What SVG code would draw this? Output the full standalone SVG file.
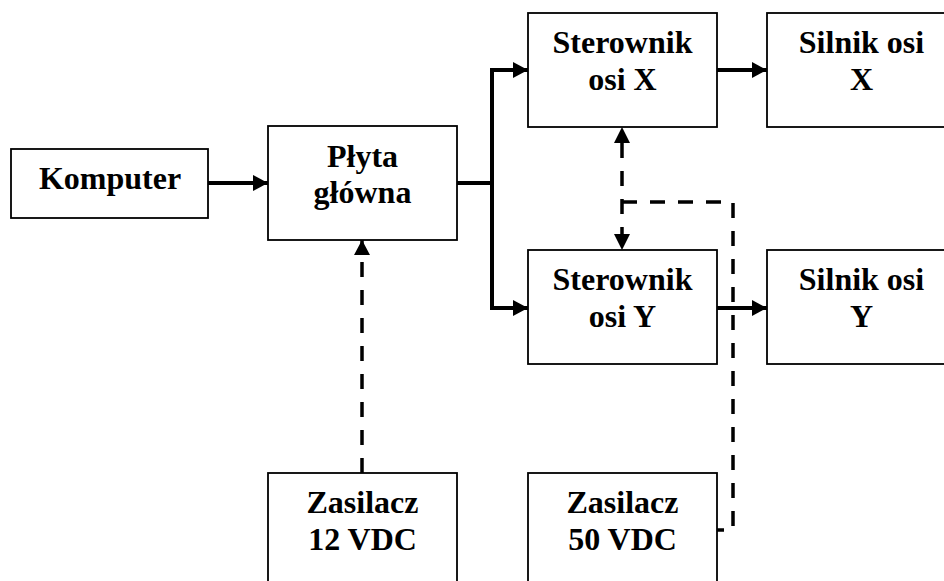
<svg xmlns="http://www.w3.org/2000/svg" width="944" height="581" viewBox="0 0 944 581">
<defs>
<style>
.box{fill:#fff;stroke:#000;stroke-width:1.8}
.t{font-family:"Liberation Serif","Times New Roman",serif;font-weight:bold;font-size:32px;text-anchor:middle;fill:#000}
.solid{fill:none;stroke:#000;stroke-width:4}
.dash{fill:none;stroke:#000;stroke-width:3.5;stroke-dasharray:15 13}
</style>
<marker id="ah" viewBox="0 0 15 16" refX="15" refY="8" markerWidth="15" markerHeight="16" markerUnits="userSpaceOnUse" orient="auto-start-reverse">
<path d="M0,0 L15,8 L0,16 Z" fill="#000"/>
</marker>
</defs>
<rect width="944" height="581" fill="#fff"/>
<g id="connectors">
<line class="solid" x1="208" y1="183" x2="268" y2="183" marker-end="url(#ah)"/>
<polyline class="solid" points="457,183 492,183"/>
<polyline class="solid" points="492,183 492,70 528,70" marker-end="url(#ah)"/>
<polyline class="solid" points="492,183 492,308 528,308" marker-end="url(#ah)"/>
<line class="solid" x1="717" y1="70" x2="767" y2="70" marker-end="url(#ah)"/>
<line class="solid" x1="717" y1="308" x2="767" y2="308" marker-end="url(#ah)"/>
<line class="dash" x1="362" y1="473" x2="362" y2="240" marker-end="url(#ah)"/>
<line class="dash" x1="622" y1="143" x2="622" y2="234"/>
<path d="M622,127 L614,143 L630,143 Z" fill="#000"/>
<path d="M622,250 L614,234 L630,234 Z" fill="#000"/>
<polyline class="dash" points="622,202 733,202 733,530 717,530"/>
</g>
<g id="komputer"><rect class="box" x="11" y="149" width="197" height="69"/><text class="t" x="110" y="189">Komputer</text></g>
<g id="plyta"><rect class="box" x="268" y="126" width="189" height="114"/><text class="t" x="362.5" y="167">Płyta</text><text class="t" x="362.5" y="203">główna</text></g>
<g id="sterX"><rect class="box" x="528" y="13" width="189" height="114"/><text class="t" x="622.5" y="53">Sterownik</text><text class="t" x="622.5" y="90">osi X</text></g>
<g id="silnikX"><rect class="box" x="767" y="13" width="189" height="114"/><text class="t" x="861.5" y="53">Silnik osi</text><text class="t" x="861.5" y="90">X</text></g>
<g id="sterY"><rect class="box" x="528" y="250" width="189" height="114"/><text class="t" x="622.5" y="290">Sterownik</text><text class="t" x="622.5" y="327">osi Y</text></g>
<g id="silnikY"><rect class="box" x="767" y="250" width="189" height="114"/><text class="t" x="861.5" y="290">Silnik osi</text><text class="t" x="861.5" y="327">Y</text></g>
<g id="zas12"><rect class="box" x="268" y="473" width="189" height="120"/><text class="t" x="362.5" y="513">Zasilacz</text><text class="t" x="362.5" y="550">12 VDC</text></g>
<g id="zas50"><rect class="box" x="528" y="473" width="189" height="120"/><text class="t" x="622.5" y="513">Zasilacz</text><text class="t" x="622.5" y="550">50 VDC</text></g>
</svg>
